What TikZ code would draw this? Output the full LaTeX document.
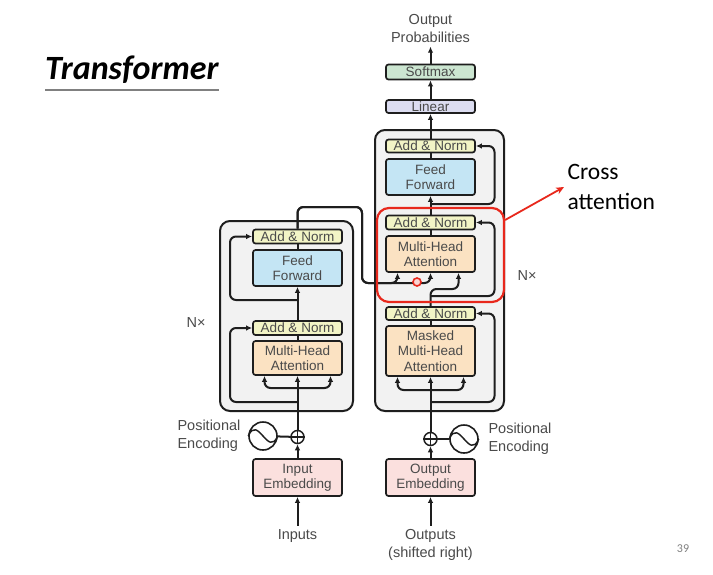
\documentclass[tikz,border=0pt]{standalone}
\usepackage{fontspec}
\setmainfont{Liberation Sans}
\newfontfamily\calibri{Carlito}
\usetikzlibrary{positioning,arrows.meta,calc}
\definecolor{txtgray}{HTML}{4A4A4A}
\definecolor{linegray}{HTML}{1E1E1E}
\definecolor{panelgray}{HTML}{F2F2F2}
\definecolor{addcol}{HTML}{F2F4C6}
\definecolor{ffcol}{HTML}{C4E5F4}
\definecolor{mhacol}{HTML}{FBE2C2}
\definecolor{embcol}{HTML}{FBE0DE}
\definecolor{lincol}{HTML}{DCDDF1}
\definecolor{softcol}{HTML}{CCE6D1}
\definecolor{crossred}{HTML}{E8281C}

\begin{document}
\begin{tikzpicture}[x=1pt,y=-1pt,
    every node/.style={font=\fontsize{13.5}{15.5}\selectfont,text=txtgray},
    block/.style={draw=linegray,line width=1.7pt,rounded corners=2.5pt,minimum width=89pt,inner sep=0pt,align=center},
    addnorm/.style={block,fill=addcol,minimum height=14pt},
    ffbox/.style={block,fill=ffcol,minimum height=36pt},
    mhabox/.style={block,fill=mhacol},
    embbox/.style={block,fill=embcol,minimum height=37pt},
    panel/.style={draw=linegray,fill=panelgray,line width=2pt,rounded corners=10pt,inner sep=0pt},
    oplus/.style={draw=linegray,circle,line width=1.5pt,minimum size=13pt,inner sep=0pt,fill=white},
    wave/.style={draw=linegray,circle,line width=1.6pt,minimum size=28pt,inner sep=0pt},
    outtext/.style={font=\fontsize{14.5}{18}\selectfont,align=center},
    wire/.style={draw=linegray,line width=2pt,rounded corners=6pt},
    arr/.style={wire,-{Latex[length=6pt,width=5.5pt]}},
    redarr/.style={draw=crossred,line width=1.8pt,-{Stealth[length=8pt,width=7pt]}}]
    \fill[white] (0,0) rectangle (713,574);
    \useasboundingbox (0,0) rectangle (713,574);

    \node[anchor=base west,inner sep=0pt,text=black,font=\calibri\bfseries\itshape\fontsize{34}{36}\selectfont] (title) at (45,79) {Transformer};
    \draw[gray,line width=1.2pt] ($(title.base west)+(0,11)$) -- ($(title.base east)+(0,11)$);

    \node[panel,minimum width=133pt,minimum height=190pt] (encPanel) at (286.5,316) {};
    \node[panel,minimum width=129pt,minimum height=281pt] (decPanel) at (439.5,270.5) {};

    \node[addnorm] (encAN2) at (297.5,236.5) {Add \& Norm};
    \node[ffbox] (encFF) at (297.5,268) {Feed\\Forward};
    \node[addnorm] (encAN1) at (297.5,328) {Add \& Norm};
    \node[mhabox,minimum height=34pt] (encMHA) at (297.5,358) {Multi-Head\\Attention};
    \node[oplus] (encAdd) at (297.5,437) {};
    \node[wave] (encPE) at (263,436) {};
    \node[embbox] (encEmb) at (297.5,477.5) {Input\\Embedding};
    \node[outtext] (inp) at (297.5,536) {Inputs};
    \node[outtext,align=left,anchor=west] (encPEtxt) at (174,436) {Positional\\Encoding};
    \node[outtext] (encN) at (196,323) {N×};

    \node[outtext] (outProb) at (430.5,29) {Output\\Probabilities};
    \node[block,fill=softcol,minimum height=15pt] (softmax) at (430.5,72) {Softmax};
    \node[block,fill=lincol,minimum height=13pt] (linear) at (430.5,106.5) {Linear};
    \node[addnorm,minimum height=13pt] (decAN3) at (430.5,146) {Add \& Norm};
    \node[ffbox] (decFF) at (430.5,177) {Feed\\Forward};
    \node[addnorm] (decAN2) at (430.5,222.5) {Add \& Norm};
    \node[mhabox,minimum height=36pt] (decMHA2) at (430.5,254) {Multi-Head\\Attention};
    \node[addnorm,minimum height=13pt] (decAN1) at (430.5,313.5) {Add \& Norm};
    \node[mhabox,minimum height=50pt] (decMHA1) at (430.5,351) {Masked\\Multi-Head\\Attention};
    \node[oplus] (decAdd) at (430.5,439) {};
    \node[wave] (decPE) at (464,439) {};
    \node[embbox] (decEmb) at (430.5,477.5) {Output\\Embedding};
    \node[outtext] (outp) at (430.5,545) {Outputs\\(shifted right)};
    \node[outtext,align=left,anchor=west] (decPEtxt) at (485,439) {Positional\\Encoding};
    \node[outtext] (decN) at (527,276) {N×};

    \coordinate (encSplit) at (297.5,388);
    \coordinate (encRes1) at (297.5,402);
    \coordinate (encRes2) at (297.5,300);
    \coordinate (encTurn) at (362,207);
    \coordinate (crossIn) at (362,283);
    \coordinate (decSplit) at (430.5,390);
    \coordinate (decRes1) at (430.5,402);
    \coordinate (decRes2) at (430.5,296);
    \coordinate (decQ) at (430.5,289);
    \coordinate (decRes3) at (430.5,204);

    \draw[line width=1.5pt,draw=linegray] (encPE.west) .. controls ($(encPE)+(-5,-22)$) and ($(encPE)+(5,22)$) .. (encPE.east);
    \draw[line width=1.5pt,draw=linegray] (decPE.west) .. controls ($(decPE)+(-5,-22)$) and ($(decPE)+(5,22)$) .. (decPE.east);
    \draw[line width=1.2pt,draw=linegray] (encAdd.north) -- (encAdd.south) (encAdd.west) -- (encAdd.east);
    \draw[line width=1.2pt,draw=linegray] (decAdd.north) -- (decAdd.south) (decAdd.west) -- (decAdd.east);

    \draw[arr] (inp.north) -- (encEmb.south);
    \draw[arr] (encEmb) -- (encAdd);
    \draw[wire] (encPE) -- (encAdd);
    \draw[arr] (encAdd) -- (encMHA);
    \draw[arr] (encSplit) -| ($(encMHA.south)+(-33,0)$);
    \draw[arr] (encSplit) -| ($(encMHA.south)+(33,0)$);
    \draw[arr] (encRes1) -- ++(-67.5,0) |- (encAN1.west);
    \draw[wire] (encMHA) -- (encAN1);
    \draw[arr] (encAN1) -- (encFF);
    \draw[arr] (encRes2) -- ++(-67.5,0) |- (encAN2.west);
    \draw[wire] (encFF) -- (encAN2);

    \draw[arr] (encAN2.north) |- (encTurn) -- (crossIn) -| ($(decMHA2.south)+(-33,0)$);
    \draw[arr] (encAN2.north) |- (encTurn) -- (crossIn) -| (decMHA2.south);

    \draw[arr] (outp.north) -- (decEmb.south);
    \draw[arr] (decEmb) -- (decAdd);
    \draw[wire] (decPE) -- (decAdd);
    \draw[arr] (decAdd) -- (decMHA1);
    \draw[arr] (decSplit) -| ($(decMHA1.south)+(-33,0)$);
    \draw[arr] (decSplit) -| ($(decMHA1.south)+(33,0)$);
    \draw[arr] (decRes1) -- ++(64,0) |- (decAN1.east);
    \draw[wire] (decMHA1) -- (decAN1);
    \draw[arr] (decAN1.north) -- (decQ) -| ($(decMHA2.south)+(28,0)$);
    \draw[arr] (decRes2) -- ++(64,0) |- (decAN2.east);
    \draw[wire] (decMHA2) -- (decAN2);
    \draw[arr] (decAN2) -- (decFF);
    \draw[arr] (decRes3) -- ++(64,0) |- (decAN3.east);
    \draw[wire] (decFF) -- (decAN3);
    \draw[arr] (decAN3) -- (linear);
    \draw[arr] (linear) -- (softmax);
    \draw[arr] (softmax) -- (outProb);

    \node[draw=crossred,line width=2.2pt,rounded corners=12pt,minimum width=127pt,minimum height=94pt,inner sep=0pt] (crossBox) at (440.5,255) {};
    \node[draw=crossred,circle,line width=1.6pt,minimum size=8pt,inner sep=0pt,fill=crossred!20] (cursor) at (417,282) {};
    \node[anchor=west,align=left,text=black,font=\calibri\fontsize{23.5}{30}\selectfont] (crossTxt) at (564,187) {Cross\\attention};
    \draw[redarr] ([yshift=35pt]crossBox.east) -- (crossTxt.west);

    \node[text=gray,font=\calibri\fontsize{12}{14}\selectfont] (pageNum) at (683,549) {39};
\end{tikzpicture}
\end{document}
